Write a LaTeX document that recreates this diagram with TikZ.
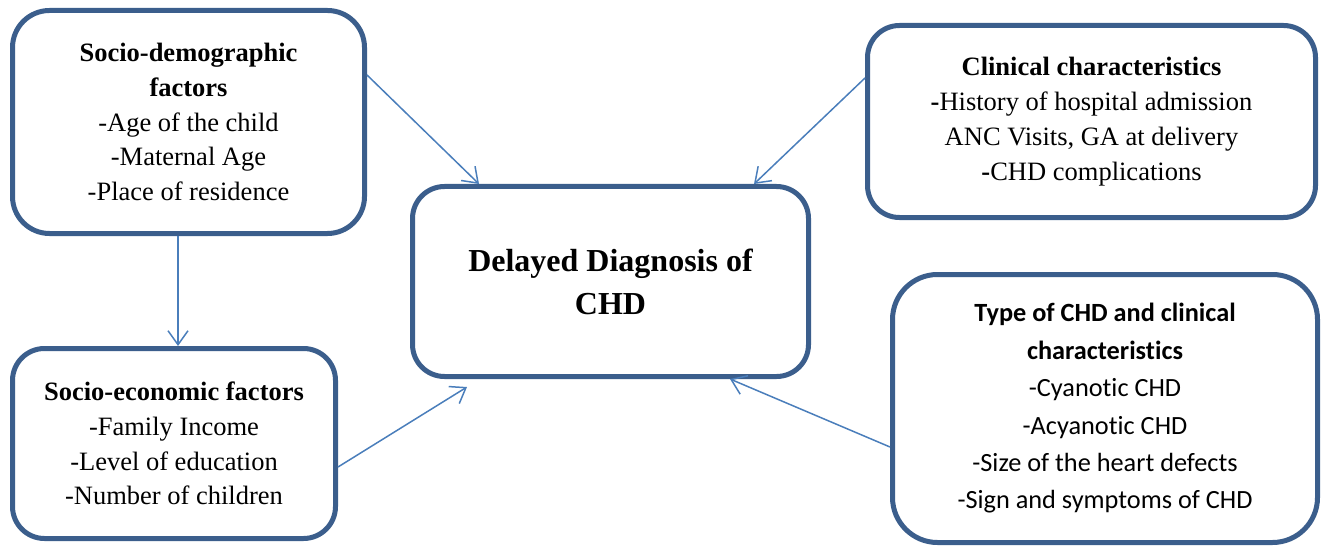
\documentclass[tikz,border=0pt]{standalone}
\usepackage{fontspec}
\setmainfont{Liberation Serif}
\newfontfamily\carlitofont{Carlito}[Ligatures=CommonOff]
\usetikzlibrary{arrows.meta}
\definecolor{boxline}{RGB}{59,94,140}
\definecolor{arrowline}{RGB}{74,126,187}
\tikzset{
  factorbox/.style={draw=boxline, line width=5pt, fill=white, align=center,
    inner sep=0pt, font=\fontsize{26.5}{34.8}\selectfont},
  link/.style={draw=arrowline, line width=1.5pt,
    -{Straight Barb[length=14pt,width=20pt,line width=1.5pt]}}
}
\begin{document}
\begin{tikzpicture}[x=1pt,y=1pt]
\useasboundingbox (0,0) rectangle (1321,547);
% boxes
\node[factorbox, minimum width=352pt, minimum height=223pt, rounded corners=37pt] (A) at (188.5,425)
  {\textbf{Socio-demographic}\\\textbf{factors}\\-Age of the child\\-Maternal Age\\-Place of residence};
\node[factorbox, minimum width=323pt, minimum height=190pt, rounded corners=32pt] (B) at (174,103.5)
  {\textbf{Socio-economic factors}\\-Family Income\\-Level of education\\-Number of children};
\node[factorbox, minimum width=396pt, minimum height=190pt, rounded corners=32pt,
  font=\fontsize{32}{43}\selectfont\bfseries] (C) at (610.5,265.5)
  {Delayed Diagnosis of\\CHD};
\node[factorbox, minimum width=448pt, minimum height=192pt, rounded corners=32pt] (D) at (1091.5,425.5)
  {\textbf{Clinical characteristics}\\\textbf{-}History of hospital admission\\ANC Visits, GA at delivery\\\textbf{-}CHD complications};
\node[factorbox, minimum width=425pt, minimum height=268pt, rounded corners=45pt,
  font=\carlitofont\fontsize{26.3}{37.4}\selectfont] (E) at (1105,138.5)
  {\textbf{Type of CHD and clinical}\\\textbf{characteristics}\\-Cyanotic CHD\\-Acyanotic CHD\\-Size of the heart defects\\-Sign and symptoms of CHD};
% connectors
\draw[link] ([yshift=47pt]A.east) -- ([xshift=-131.5pt]C.north);
\draw[link] ([yshift=43.5pt]D.west) -- ([xshift=143.5pt]C.north);
\draw[link] ([xshift=-10.5pt]A.south) -- ([xshift=4pt]B.north);
\draw[link] ([yshift=-23.5pt]B.east) -- ([xshift=-143.5pt,yshift=-8pt]C.south);
\draw[link] ([yshift=-38.5pt]E.west) -- ([xshift=119.5pt]C.south);
\end{tikzpicture}
\end{document}
